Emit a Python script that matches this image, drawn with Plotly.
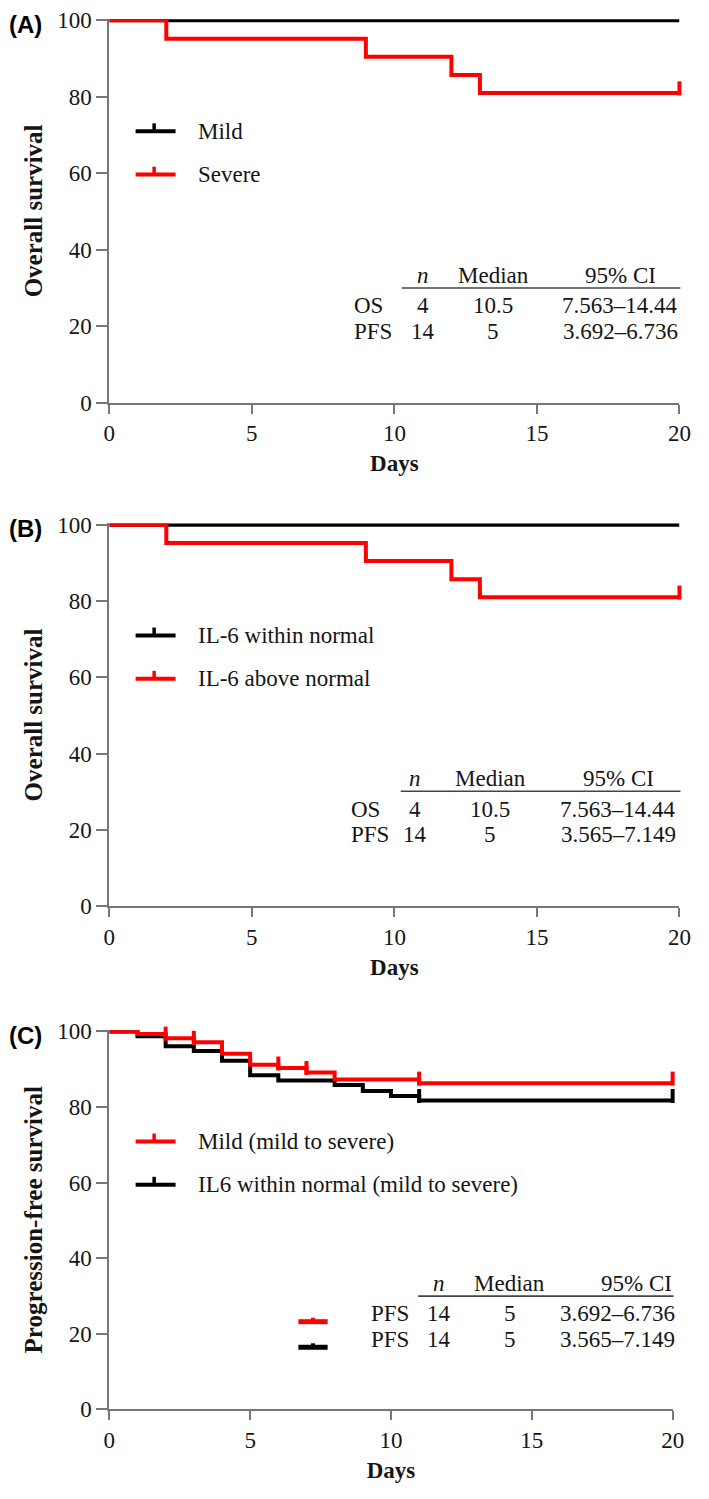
import plotly.graph_objects as go

# ---- data -------------------------------------------------------------
# panel A / B : overall survival
days_ab = [0, 2, 9, 12, 13, 20]
severe_surv = [100, 95.2, 90.5, 85.7, 81.0, 81.0]
mild_days = [0, 20]
mild_surv = [100, 100]
censor_ab = [20]

# panel C : progression-free survival
days_red_c = [0, 1, 2, 3, 4, 5, 6, 7, 8, 11, 20]
surv_red_c = [100, 99.3, 98.2, 97.1, 94.1, 91.2, 90.3, 89.1, 87.3, 86.3, 86.3]
censor_red_c = [1, 2, 3, 6, 7, 11, 20]

days_blk_c = [0, 1, 2, 3, 4, 5, 6, 8, 9, 10, 11, 20]
surv_blk_c = [100, 98.7, 96.1, 94.8, 92.2, 88.4, 87.0, 85.8, 84.2, 82.9, 81.7, 81.7]
censor_blk_c = [11, 20]

legend_a = ["Mild", "Severe"]
legend_b = ["IL-6 within normal", "IL-6 above normal"]
legend_c = ["Mild (mild to severe)", "IL6 within normal (mild to severe)"]

table_header = ["n", "Median", "95% CI"]
table_a = [["OS", "4", "10.5", "7.563\u201314.44"], ["PFS", "14", "5", "3.692\u20136.736"]]
table_b = [["OS", "4", "10.5", "7.563\u201314.44"], ["PFS", "14", "5", "3.565\u20137.149"]]
table_c = [["PFS", "14", "5", "3.692\u20136.736"], ["PFS", "14", "5", "3.565\u20137.149"]]

W, H = 709, 1499
RED = "#ff0000"
BLACK = "#000000"
AXIS = "#777777"
SERIF = "Liberation Serif"
TXT = "#151515"


def px(y):
    return 1 - y / H


def pxx(x):
    return x / W


def step_at(days, surv, t):
    val = surv[0]
    for d, s in zip(days, surv):
        if d <= t:
            val = s
    return val


fig = go.Figure()

# panel geometry in pixels (y of the 100 tick, y of the 0 tick, x of 0 and 20)
panels = [
    dict(top=9.5, bottom=398, x0=106, x1=691, label="(A)", ytitle="Overall survival"),
    dict(top=522, bottom=910, x0=106, x1=691, label="(B)", ytitle="Overall survival"),
    dict(top=1037, bottom=1421, x0=106, x1=684, label="(C)", ytitle="Progression-free survival"),
]
YTOP = 100.3  # the 100 % line sits on the top edge, only slightly trimmed

curves = [
    (0, mild_days, mild_surv, BLACK, censor_ab),
    (0, days_ab, severe_surv, RED, censor_ab),
    (1, mild_days, mild_surv, BLACK, censor_ab),
    (1, days_ab, severe_surv, RED, censor_ab),
    (2, days_blk_c, surv_blk_c, BLACK, censor_blk_c),
    (2, days_red_c, surv_red_c, RED, censor_red_c),
]

for i, d, s, col, cens in curves:
    ax = "" if i == 0 else str(i + 1)
    fig.add_trace(go.Scatter(
        x=d, y=s, mode="lines", line=dict(color=col, width=4, shape="hv"),
        xaxis="x" + ax, yaxis="y" + ax, cliponaxis=False, showlegend=False,
        hoverinfo="skip"
    ))
    # censor ticks, pointing up from the curve
    cy = [step_at(d, s, t) + 1.2 for t in cens]
    fig.add_trace(go.Scatter(
        x=cens, y=cy, mode="markers",
        marker=dict(symbol="line-ns", size=10, line=dict(color=col, width=4)),
        xaxis="x" + ax, yaxis="y" + ax, cliponaxis=False, showlegend=False,
        hoverinfo="skip"
    ))

layout = dict(
    width=W, height=H, margin=dict(l=0, r=0, t=0, b=0),
    plot_bgcolor="white", paper_bgcolor="white", showlegend=False,
)

annotations = []
shapes = []

for i, p in enumerate(panels):
    ax = "" if i == 0 else str(i + 1)
    scale = (p["bottom"] - p["top"]) / 100
    top_px = p["bottom"] - YTOP * scale
    layout["xaxis" + ax] = dict(
        domain=[pxx(p["x0"]), pxx(p["x1"])], anchor="y" + ax, range=[0, 20],
        tickvals=[0, 5, 10, 15, 20], ticks="outside", ticklen=9, tickwidth=1.5,
        tickcolor=AXIS, showline=True, linecolor=AXIS, linewidth=1.8,
        showgrid=False, zeroline=False,
        tickfont=dict(family=SERIF, size=23, color=TXT),
        title=dict(text="<b>Days</b>", font=dict(family=SERIF, size=23, color=TXT), standoff=10),
    )
    layout["yaxis" + ax] = dict(
        domain=[px(p["bottom"]), px(top_px)], anchor="x" + ax, range=[0, YTOP],
        tickvals=[0, 20, 40, 60, 80, 100], ticks="outside", ticklen=11, tickwidth=1.5,
        tickcolor=AXIS, showline=True, linecolor=AXIS, linewidth=1.8,
        showgrid=False, zeroline=False,
        tickfont=dict(family=SERIF, size=23, color=TXT),
        title=dict(text="<b>" + p["ytitle"] + "</b>", font=dict(family=SERIF, size=25, color=TXT), standoff=8),
    )
    annotations.append(dict(
        text="<b>" + p["label"] + "</b>", x=pxx(1), y=px(p["top"] + 4), xref="paper", yref="paper",
        xanchor="left", yanchor="middle", showarrow=False,
        font=dict(family="Liberation Sans", size=24, color="black")
    ))

# legends (drawn by hand so the sample carries the censor tick)
legend_rows = [
    (0, legend_a, [BLACK, RED]),
    (1, legend_b, [BLACK, RED]),
    (2, legend_c, [RED, BLACK]),
]
for i, names, cols in legend_rows:
    p = panels[i]
    scale = (p["bottom"] - p["top"]) / 100
    y80 = p["top"] + 20 * scale
    for k, (name, col) in enumerate(zip(names, cols)):
        yy = y80 + 35 + 44 * k
        shapes.append(dict(type="line", xref="paper", yref="paper",
                           x0=pxx(133), x1=pxx(174), y0=px(yy), y1=px(yy),
                           line=dict(color=col, width=4)))
        shapes.append(dict(type="line", xref="paper", yref="paper",
                           x0=pxx(152), x1=pxx(152), y0=px(yy), y1=px(yy - 8),
                           line=dict(color=col, width=3.5)))
        annotations.append(dict(
            text=name, x=pxx(195), y=px(yy), xref="paper", yref="paper",
            xanchor="left", yanchor="middle", showarrow=False,
            font=dict(family=SERIF, size=23, color=TXT)
        ))

# summary tables
tables = [
    dict(rows=table_a, line=9.5 + 272, lab=355, n=428, med=500, ci=630, ci_anchor="center",
         l0=406, l1=692, marks=None),
    dict(rows=table_b, line=522 + 271, lab=352, n=420, med=497, ci=628, ci_anchor="center",
         l0=405, l1=692, marks=None),
    dict(rows=table_c, line=1037 + 269, lab=372, n=444, med=517, ci=688, ci_anchor="right",
         l0=423, l1=685, marks=[RED, BLACK]),
]
font = dict(family=SERIF, size=23, color=TXT)
for t in tables:
    ly = t["line"]
    hy = ly - 13
    ry = [ly + 18, ly + 44]
    cols_x = [t["n"], t["med"], t["ci"]]
    anchors = ["center", "center", t["ci_anchor"]]
    hdr = ["<i>" + table_header[0] + "</i>", table_header[1], table_header[2]]
    for txt, xc, an in zip(hdr, cols_x, anchors):
        hx = xc - 3 if an == "right" else xc
        annotations.append(dict(text=txt, x=pxx(hx), y=px(hy), xref="paper", yref="paper",
                                xanchor=an, yanchor="middle", showarrow=False, font=font))
    shapes.append(dict(type="line", xref="paper", yref="paper",
                       x0=pxx(t["l0"]), x1=pxx(t["l1"]), y0=px(ly), y1=px(ly),
                       line=dict(color="#444", width=1.6)))
    for r, row in enumerate(t["rows"]):
        yy = ry[r]
        annotations.append(dict(text=row[0], x=pxx(t["lab"]), y=px(yy), xref="paper", yref="paper",
                                xanchor="left", yanchor="middle", showarrow=False, font=font))
        for txt, xc, an in zip(row[1:], cols_x, anchors):
            annotations.append(dict(text=txt, x=pxx(xc), y=px(yy), xref="paper", yref="paper",
                                    xanchor=an, yanchor="middle", showarrow=False, font=font))
        if t["marks"]:
            col = t["marks"][r]
            shapes.append(dict(type="line", xref="paper", yref="paper",
                               x0=pxx(300), x1=pxx(330), y0=px(yy + 8), y1=px(yy + 8),
                               line=dict(color=col, width=5)))
            shapes.append(dict(type="line", xref="paper", yref="paper",
                               x0=pxx(315), x1=pxx(315), y0=px(yy + 8), y1=px(yy + 4),
                               line=dict(color=col, width=4)))

layout["annotations"] = annotations
layout["shapes"] = shapes
fig.update_layout(**layout)

fig.write_html("out.html", config={"displayModeBar": False},
               post_script="document.body.style.margin='0';")
